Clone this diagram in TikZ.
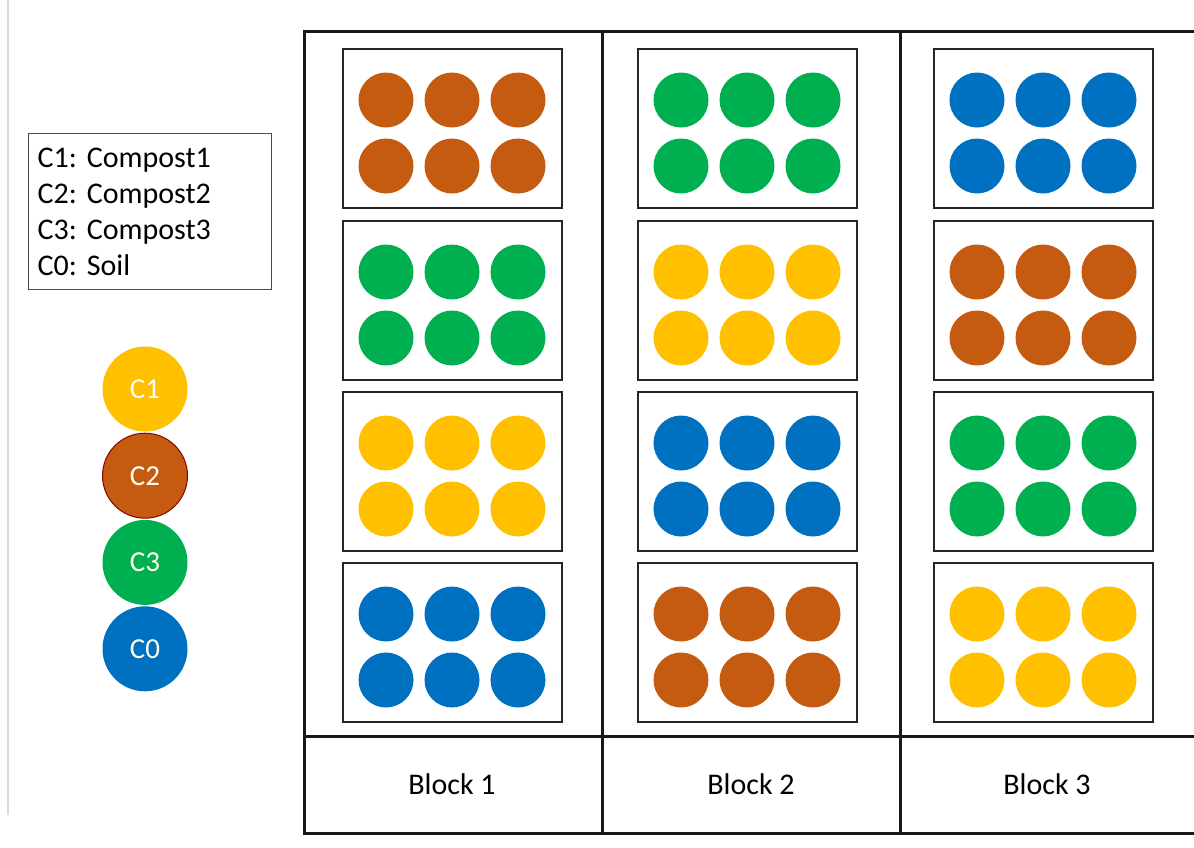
\documentclass[tikz,border=0pt]{standalone}
\usepackage{fontspec}
\setmainfont{Carlito}
\usepackage{xcolor}
\usepackage{tikz}
\usetikzlibrary{positioning}

\definecolor{cOne}{HTML}{FFC000}
\definecolor{cTwo}{HTML}{C55A11}
\definecolor{cThree}{HTML}{00B050}
\definecolor{cZero}{HTML}{0070C0}

\begin{document}
\frenchspacing
\begin{tikzpicture}[
        x=1pt, y=-1pt,
        frame/.style={line width=3pt, draw=black!90},
        plot/.style={rectangle, draw=black!85, line width=2pt, minimum width=219pt, minimum height=159pt},
        pot/.style={circle, inner sep=0pt, minimum size=55pt},
        legend/.style={rectangle, draw=black!70, line width=1.2pt, align=left, text width=225pt, inner xsep=9pt, minimum height=156pt, font=\fontsize{30}{36}\selectfont},
        key/.style={circle, inner sep=0pt, minimum size=85pt, text=white!94!yellow, font=\fontsize{29}{32}\selectfont},
        blocklabel/.style={font=\fontsize{30}{36}\selectfont}
    ]
        \useasboundingbox (0,0) rectangle (1194,847);
        \clip (0,0) rectangle (1194,847);

        % faint margin line
        \draw[black!15, line width=1.5pt] (8,0) -- (8,815);

        % legend
        \node[legend, anchor=north west] (legendbox) at (28,133) {C1: Compost1\\C2: Compost2\\C3: Compost3\\C0: Soil};
        \node[key, fill=cOne] (keyOne) at (145,389) {C1};
        \node[key, fill=cTwo, draw=red!55!black, line width=1pt, below=1pt of keyOne] (keyTwo) {C2};
        \node[key, fill=cThree, below=1pt of keyTwo] (keyThree) {C3};
        \node[key, fill=cZero, below=1pt of keyThree] (keyZero) {C0};

        % field frame
        \draw[frame] (1200,31) -- (304,31) -- (304,833) -- (1200,833);
        \draw[frame] (602,31) -- (602,833);
        \draw[frame] (900,31) -- (900,833);
        \draw[frame] (304,736) -- (1200,736);

        % plots
        \foreach \b/\x/\ca/\cb/\cc/\cd in {1/452/cTwo/cThree/cOne/cZero, 2/747/cThree/cOne/cZero/cTwo, 3/1043/cZero/cTwo/cThree/cOne} {
            \foreach \r/\y/\c in {1/128/\ca, 2/300/\cb, 3/471/\cc, 4/642/\cd} {
                \node[plot] (plot-\b-\r) at (\x,\y) {};
                \foreach \i/\dx in {a/-66, b/0, c/66}
                    \foreach \j/\dy in {u/-28, d/38}
                        \node[pot, fill=\c] (pot-\b-\r-\i\j) at ({\x+\dx},{\y+\dy}) {};
            }
        }

        % block names
        \node[blocklabel] (blockOne) at (452,784) {Block 1};
        \node[blocklabel] (blockTwo) at (751,784) {Block 2};
        \node[blocklabel] (blockThree) at (1047,784) {Block 3};
    \end{tikzpicture}
\end{document}
